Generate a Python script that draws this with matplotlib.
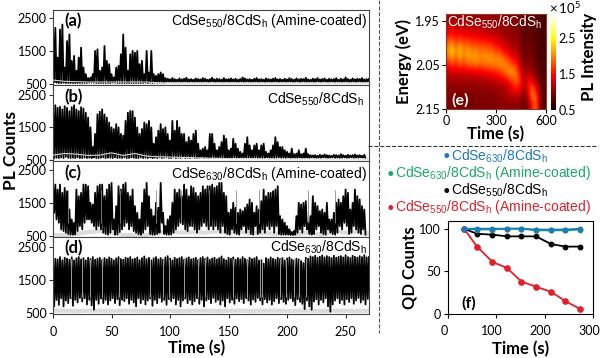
import numpy as np
import matplotlib
matplotlib.use('Agg')
import matplotlib.pyplot as plt
from matplotlib.lines import Line2D
from matplotlib.transforms import ScaledTranslation

plt.rcParams['font.family'] = ['Lato', 'DejaVu Sans']
plt.rcParams['mathtext.default'] = 'regular'

W, H = 600, 358

# PL traces, one value every 2 s: top and bottom of the blinking envelope
a_hi = [2250,2200,1300,2150,2300,1000,1800,2000,1200,1350,900,1300,1600,1000,800,680,700,800,1500,1550,900,1000,1650,1200,1100,800,700,1000,1050,1400,
        2000,1600,900,1400,1500,1450,1500,1100,1200,800,1500,850,1500,800,750,800,850,800,680,660,640,680,650,630,670,640,660,690,640,650,
        630,670,650,640,680,660,630,650,690,640,660,650,630,680,640,650,670,640,660,630,650,700,670,640,650,630,660,680,640,650,
        630,670,650,640,660,680,640,650,630,660,640,680,650,630,670,640,660,650,690,640,630,660,650,680,640,650,670,630,660,640,
        650,680,630,660,640,700,650,630,670,640,660,650,680,640,650,660]
a_lo = [560,540,530,530,540,530,530,530,530,530,530,530,530,530,530,540,540,540,530,530,530,530,530,530,530,540,540,530,530,530,
        530,530,530,530,530,530,530,530,530,540,530,540,530,540,540,540,540,540,560,570,570,560,570,570,560,570,570,560,570,570,
        560,570,570,560,570,570,560,570,570,560,570,570,560,570,570,560,570,570,560,570,570,560,570,570,560,570,570,560,570,570,
        560,570,570,560,570,570,560,570,570,560,570,570,560,570,570,560,570,570,560,570,570,560,570,570,560,570,570,560,570,570,
        560,570,570,560,570,570,560,570,570,560,570,570,560,570,570,560]
b_hi = [2150,2180,2100,2130,2050,2150,2100,2000,2120,2180,2050,2000,2120,2080,1950,1800,1500,900,1300,
        1900,1980,2050,1900,1800,1650,1500,1450,1600,1500,1300,1250,1700,1950,2000,2000,1800,1500,
        1300,1450,1650,1600,1700,1500,1000,1200,1400,1600,1450,1500,1300,1100,1700,1400,1700,1500,1300,1300,1050,1200,1100,1300,1400,1000,800,850,900,800,1300,
        1300,1000,800,900,1050,1250,1150,800,850,1150,1000,850,750,700,1000,1200,950,800,950,1000,800,950,1000,750,700,800,950,1200,1050,900,900,800,750,700,850,680,700,800,680,700,850,680,
        650,640,650,630,660,640,670,650,640,630,660,650,640,680,650,630,660,640,650,670,640,650,630,660,640,650]
b_lo = [560,570,560,580,560,600,570,560,570,560,580,560,560,580,560,570,560,580,560,560,570,580,560,570,570,560,580,560,
        570,560,580,560,560,580,570,560,560,580,560,570,560,580,560,570,560,580,560,570,580,560,560,580,560,570,560,580,
        560,570,560,580,560,560,570,580,560,570,560,570,580,560,570,560,580,560,570,560,570,580,560,570,560,580,570,
        560,570,560,580,560,570,560,570,580,560,570,560,570,580,560,570,560,580,560,570,570,560,580,560,570,
        570,560,580,570,560,570,560,580,570,560,570,580,560,570,560,570,580,560,570,580,560,570,570,580,570,560]
c_hi = [2100,2050,1900,2050,1800,1950,1850,1300,1000,900,1900,1700,1800,2050,2050,2000,1500,1450,1800,2000,2050,2050,1700,1900,2050,2100,1000,1400,
        2000,1900,2050,2100,1800,1700,1900,1400,1200,1000,1500,1900,2100,1700,1300,1100,1500,1350,2100,1200,800,1000,1100,1500,1900,1800,1900,1700,2050,1900,1700,2000,1950,
        1800,1700,1800,2000,1900,2000,2000,2050,1950,2000,2100,2100,1800,1700,1200,1300,1500,1350,1200,1300,1250,1350,1450,1600,1500,1200,1400,1300,1550,
        1900,1700,1800,1800,1850,1900,2000,1100,1000,900,800,700,620,650,1100,1500,1450,1500,1550,900,1100,1700,1500,1400,1250,1300,1200,1500,1000,1000,1200,1500,1600,1500,1700,1900,
        1800,1300,1500,1900,1700,1600,1400,1300,1400]
c_lo = [1200,1000,900,700,650,600,560,540,540,550,650,800,700,900,1000,1000,900,800,700,800,700,600,560,540,600,700,540,550,
        620,700,800,900,700,800,650,600,560,540,600,700,800,560,540,540,560,600,900,560,540,540,540,600,700,800,900,850,700,650,800,800,
        700,600,700,800,900,800,700,800,700,800,700,600,800,600,560,540,700,600,560,540,700,800,600,700,560,540,800,560,600,
        700,600,800,700,800,600,800,560,540,540,540,540,530,530,540,600,700,600,800,700,560,540,560,700,800,600,560,540,700,600,
        560,540,600,800,700,900,800,560,600,800,700,600,560,700,540]
c_gaps = [13,41,57,88,109,133,156,176,218,241]
d_hi = [2120,2150,2130,2200,2100,2180,2150,2120,2190,2100,2160,2200,2130,2170,2100,2180,2140,2200,2120,2150,2180,2110,2170,2130,2190,2150,2100,2160,2200,2140,
        2120,2180,2160,2200,2130,2150,2190,2110,2170,2220,2140,2180,2100,2160,2200,2130,2170,2120,2190,2230,2150,2100,2180,2140,2170,2200,2120,2160,2190,2130,
        2150,2180,2110,2170,2200,2140,2190,2120,2160,2180,2130,2170,2220,2140,2100,2180,2150,2190,2120,2170,2130,2200,2150,2110,2180,2140,2160,2200,2100,2100,
        2000,2170,2130,2190,2150,2120,2180,2140,2170,2100,2160,2190,2130,2100,2150,2130,2080,2020,2180,2150,2220,2200,2240,2180,2210,2250,2190,2230,2200,2170,
        2240,2180,2210,2230,2190,2260,2200,2170,2240,2210,2180,2230,2200,2260,2190,2210]
d_lo = [700,900,750,950,700,880,800,950,720,900,820,960,850,950,760,900,730,600,900,780,940,800,900,760,880,950,800,920,740,900,
        860,950,780,900,820,700,950,800,910,760,880,940,720,900,800,960,840,900,750,920,860,950,760,900,700,880,940,800,900,760,
        860,950,780,900,700,880,920,800,960,840,900,760,880,700,950,820,900,780,940,860,920,800,950,880,760,910,840,960,880,760,
        920,820,900,760,860,950,800,920,840,780,900,950,860,740,920,840,780,620,880,700,600,850,920,760,900,820,950,700,540,760,
        880,950,800,900,760,920,840,950,780,880,960,820,900,760,930,850]

# lighter second trace under the signal, one value every 10 s
a_bg = [620,580,570,560,560,560,560,560,560,540,530,530,530,530,530,530,530,530,530,530,530,530,530,530,530,530,530,530]
b_bg = [650,700,680,640,650,720,640,700,620,600,590,580,570,560,550,540,540,540,530,530,530,530,530,530,530,530,530,530]
c_bg = [530,530,560,620,650,600,530,530,530,600,640,600,620,600,640,600,620,580,600,560,600,560,620,530,640,600,620,580]
d_bg = [570,570,560,570,570,560,570,570,560,570,570,560,570,570,560,570,570,560,570,570,560,570,570,560,570,570,560,570]
d_gaps = [15,25,32,42,56,83,94,99,112,124,130,154,166,177,179,194,199,206,210,216]

# energy map, 1e5 counts: rows go 1.945 to 2.14 eV, columns 12 to 588 s
map_vals = [
    [1.05,1.1,1.05,1.1,1.05,1.1,1.05,1.1,1.05,1.05,1.05,1.05,1.0,1.05,1.0,1.0,0.95,0.95,0.95,0.8,0.85,0.85,0.8,0.75,0.75],
    [1.3,1.4,1.25,1.35,1.25,1.3,1.2,1.25,1.2,1.2,1.15,1.15,1.1,1.1,1.05,1.05,1.0,1.0,0.95,0.8,0.85,0.85,0.8,0.75,0.75],
    [1.7,1.9,1.6,1.8,1.6,1.7,1.55,1.6,1.5,1.55,1.45,1.45,1.3,1.3,1.15,1.15,1.05,1.05,1.0,0.8,0.9,0.85,0.8,0.75,0.75],
    [2.1,2.5,2.0,2.4,2.0,2.2,2.0,2.1,1.9,2.0,1.9,1.9,1.7,1.7,1.45,1.4,1.2,1.2,1.05,0.85,0.95,0.9,0.8,0.75,0.75],
    [1.6,1.9,1.7,2.0,1.8,2.1,2.0,2.2,2.0,2.1,2.1,2.2,2.1,2.2,2.0,1.9,1.55,1.5,1.2,0.9,1.0,0.95,0.85,0.75,0.75],
    [1.2,1.3,1.2,1.3,1.25,1.35,1.3,1.35,1.35,1.45,1.45,1.5,1.6,1.7,1.9,2.1,2.2,2.0,1.5,1.0,1.2,1.05,0.95,0.8,0.75],
    [1.05,1.1,1.05,1.1,1.05,1.1,1.05,1.1,1.05,1.1,1.1,1.15,1.15,1.2,1.2,1.3,1.6,1.8,1.8,1.05,1.6,1.5,1.15,0.9,0.8],
    [0.95,1.0,0.95,1.0,0.95,1.0,0.95,1.0,1.0,1.0,1.0,1.0,1.05,1.05,1.1,1.2,1.3,1.3,1.3,0.95,1.3,2.2,1.8,1.0,0.8],
    [0.9,0.95,0.9,0.95,0.9,0.95,0.9,0.95,0.95,0.95,0.95,0.95,0.95,1.0,1.0,1.0,1.0,1.0,1.0,0.8,1.0,1.5,2.0,1.0,0.75],
]

# QD survival
qd_time = [33,60,92,122,152,182,213,243,273]
qd_red = [100,79,61,54,38,32,26,15,6]
qd_black = [100,94,93,91,91,91,82,79,79]
qd_green = [100,99,99,100,100,98,98,98,99]
qd_blue = [100,100,100,100,100,99,99,99,100]

RED, BLUE, GREEN = '#e0202a', '#1f78b8', '#1aa866'
LBL550 = 'CdSe$_{550}$/8CdS$_{h}$'
LBL630 = 'CdSe$_{630}$/8CdS$_{h}$'


def axes_px(x0, y0, x1, y1):
    return fig.add_axes([x0 / W, 1 - y1 / H, (x1 - x0) / W, (y1 - y0) / H])


def put(x, y, s, **kw):
    kw.setdefault('ha', 'left')
    kw.setdefault('va', 'center')
    fig.text(x / W, 1 - y / H, s, **kw)


fig = plt.figure(figsize=(W / 100, H / 100), dpi=100)

boxes = [(53, 10, 369, 85), (53, 85, 369, 161), (53, 161, 369, 237), (53, 237, 369, 314)]
ylims = [(470, 2740), (470, 2800), (470, 2760), (470, 2810)]
his = [a_hi, b_hi, c_hi, d_hi]
los = [a_lo, b_lo, c_lo, d_lo]
bgs = [a_bg, b_bg, c_bg, d_bg]
names = ['(a)', '(b)', '(c)', '(d)']
label_y = [21, 97, 173, 248]

for i in range(4):
    ax = axes_px(*boxes[i])
    n = min(len(his[i]), len(los[i]))
    t = 2 * np.arange(n)
    x = np.column_stack([t, t + 1]).ravel()
    y = np.column_stack([his[i][:n], los[i][:n]]).ravel()
    bg_x = 10 * np.arange(len(bgs[i]))
    if i >= 2:
        ax.plot(bg_x, bgs[i], color='#dcdcdc', lw=3, zorder=1)
    ax.plot(x, y, color='black', lw=1.3, zorder=2)
    if i < 2:
        ax.plot(bg_x, bgs[i], color='#d8d8d8', lw=0.8, zorder=3)
    if i == 2:
        ax.vlines(c_gaps, 900, 1900, color='#8a8a8a', lw=0.6, zorder=3)
    if i == 3:
        ax.vlines(d_gaps, 1000, 2150, color='#b5b5b5', lw=0.6, zorder=3)
    ax.set_xlim(0, 270)
    ax.set_ylim(*ylims[i])
    ax.set_yticks([500, 1500, 2500])
    ax.set_xticks([0, 50, 100, 150, 200, 250])
    ax.tick_params(length=3, width=0.8, labelsize=9, pad=1.5, color='#333333')
    ax.tick_params(axis='x', pad=5.5)
    if i < 3:
        ax.tick_params(labelbottom=False)
    for s in ax.spines.values():
        s.set_color('#444444')
        s.set_linewidth(0.8)
    put(64, label_y[i], names[i], fontsize=12, fontweight='bold')

put(197, 348, 'Time (s)', fontsize=12, fontweight='bold', ha='center')
put(11, 151, 'PL Counts', rotation=90, fontsize=12.5, fontweight='bold', ha='center')

panel_font = ['Liberation Sans', 'DejaVu Sans']
put(367, 21, LBL550 + ' (Amine-coated)', ha='right', fontsize=10, family=panel_font)
put(364, 99, LBL550, ha='right', fontsize=10, family=panel_font)
put(367, 174, LBL630 + ' (Amine-coated)', ha='right', fontsize=10, family=panel_font)
put(367, 247, LBL630, ha='right', fontsize=10, family=panel_font)

# energy map
ax_e = axes_px(446, 14, 546, 109)
im = ax_e.imshow(map_vals, cmap='hot', vmin=0.5, vmax=3.15, aspect='auto', interpolation='bicubic',
                 extent=[0, 600, 2.15, 1.934])
ax_e.set_xticks([0, 300, 600])
ax_e.set_yticks([1.95, 2.05, 2.15])
ax_e.set_yticklabels(['1.95', '2.05', '2.15'])
ax_e.tick_params(length=3, width=0.8, labelsize=9, pad=1.5)
ax_e.set_xlabel('Time (s)', fontsize=12, fontweight='bold', labelpad=-1)
ax_e.set_ylabel('Energy (eV)', fontsize=12, fontweight='bold', labelpad=2)
for s in ax_e.spines.values():
    s.set_color('#8a3a2a')
    s.set_linewidth(0.8)
ax_e.text(0.01, 0.91, LBL550, transform=ax_e.transAxes, color='white', fontsize=9.8, va='center', family=panel_font)
ax_e.text(0.05, 0.09, '(e)', transform=ax_e.transAxes, color='white', fontsize=11.5, fontweight='bold', va='center')

cax = axes_px(551, 14, 556, 110)
cb = fig.colorbar(im, cax=cax)
cb.set_ticks([0.5, 1.5, 2.5])
cb.ax.set_yticklabels(['0.5', '1.5', '2.5'])
cb.ax.tick_params(length=0, labelsize=9, pad=2)
cb.outline.set_visible(False)
put(549, 8, r'$\times\,10^{5}$', fontsize=9.5)
put(589, 57, 'PL Intensity', rotation=90, fontsize=12, fontweight='bold', ha='center')

# legend written as coloured text
put(443, 156, '\u2022', color=BLUE, fontsize=9.5)
put(451, 156, LBL630, color=BLUE, fontsize=10, family=panel_font)
put(387, 174, '\u2022', color=GREEN, fontsize=9.5)
put(395, 173, LBL630 + ' (Amine-coated)', color=GREEN, fontsize=10, family=panel_font)
put(443, 191, '\u2022', color='black', fontsize=9.5)
put(451, 190, LBL550, color='black', fontsize=10, family=panel_font)
put(387, 208, '\u2022', color=RED, fontsize=9.5)
put(395, 207, LBL550 + ' (Amine-coated)', color=RED, fontsize=10, family=panel_font)

# QD counts
ax_f = axes_px(448, 221, 593, 314)
ax_f.plot(qd_time, qd_red, '-o', color=RED, lw=1.3, ms=3.8)
ax_f.plot(qd_time, qd_black, '-o', color='black', lw=1.3, ms=3.2)
ax_f.plot(qd_time, qd_green, '-o', color=GREEN, lw=1.3, ms=3.2)
ax_f.plot(qd_time, qd_blue, '-o', color=BLUE, lw=1.3, ms=3.2)
ax_f.set_xlim(0, 300)
ax_f.set_ylim(0, 109)
ax_f.set_xticks([0, 100, 200, 300])
ax_f.set_yticks([0, 50, 100])
ax_f.tick_params(length=3, width=0.8, labelsize=9, pad=2)
ax_f.tick_params(axis='x', pad=5)
# tick labels sit a little left of their ticks in the original
shift = ScaledTranslation(-4 / 100, 0, fig.dpi_scale_trans)
for lab in ax_f.get_xticklabels():
    lab.set_transform(lab.get_transform() + shift)
ax_f.set_xlabel('Time (s)', fontsize=12, fontweight='bold', labelpad=3)
ax_f.set_ylabel('QD Counts', fontsize=12, fontweight='bold', labelpad=1)
ax_f.text(0.09, 0.11, '(f)', transform=ax_f.transAxes, fontsize=11.5, fontweight='bold', va='center')

# dashed panel dividers
fig.add_artist(Line2D([379 / W, 379 / W], [1, 1 - 333 / H], color='#555555', lw=0.8, ls='--'))
fig.add_artist(Line2D([368 / W, 598 / W], [1 - 146 / H, 1 - 146 / H], color='#333333', lw=0.8, ls='--'))

fig.savefig('out.png', dpi=100)
